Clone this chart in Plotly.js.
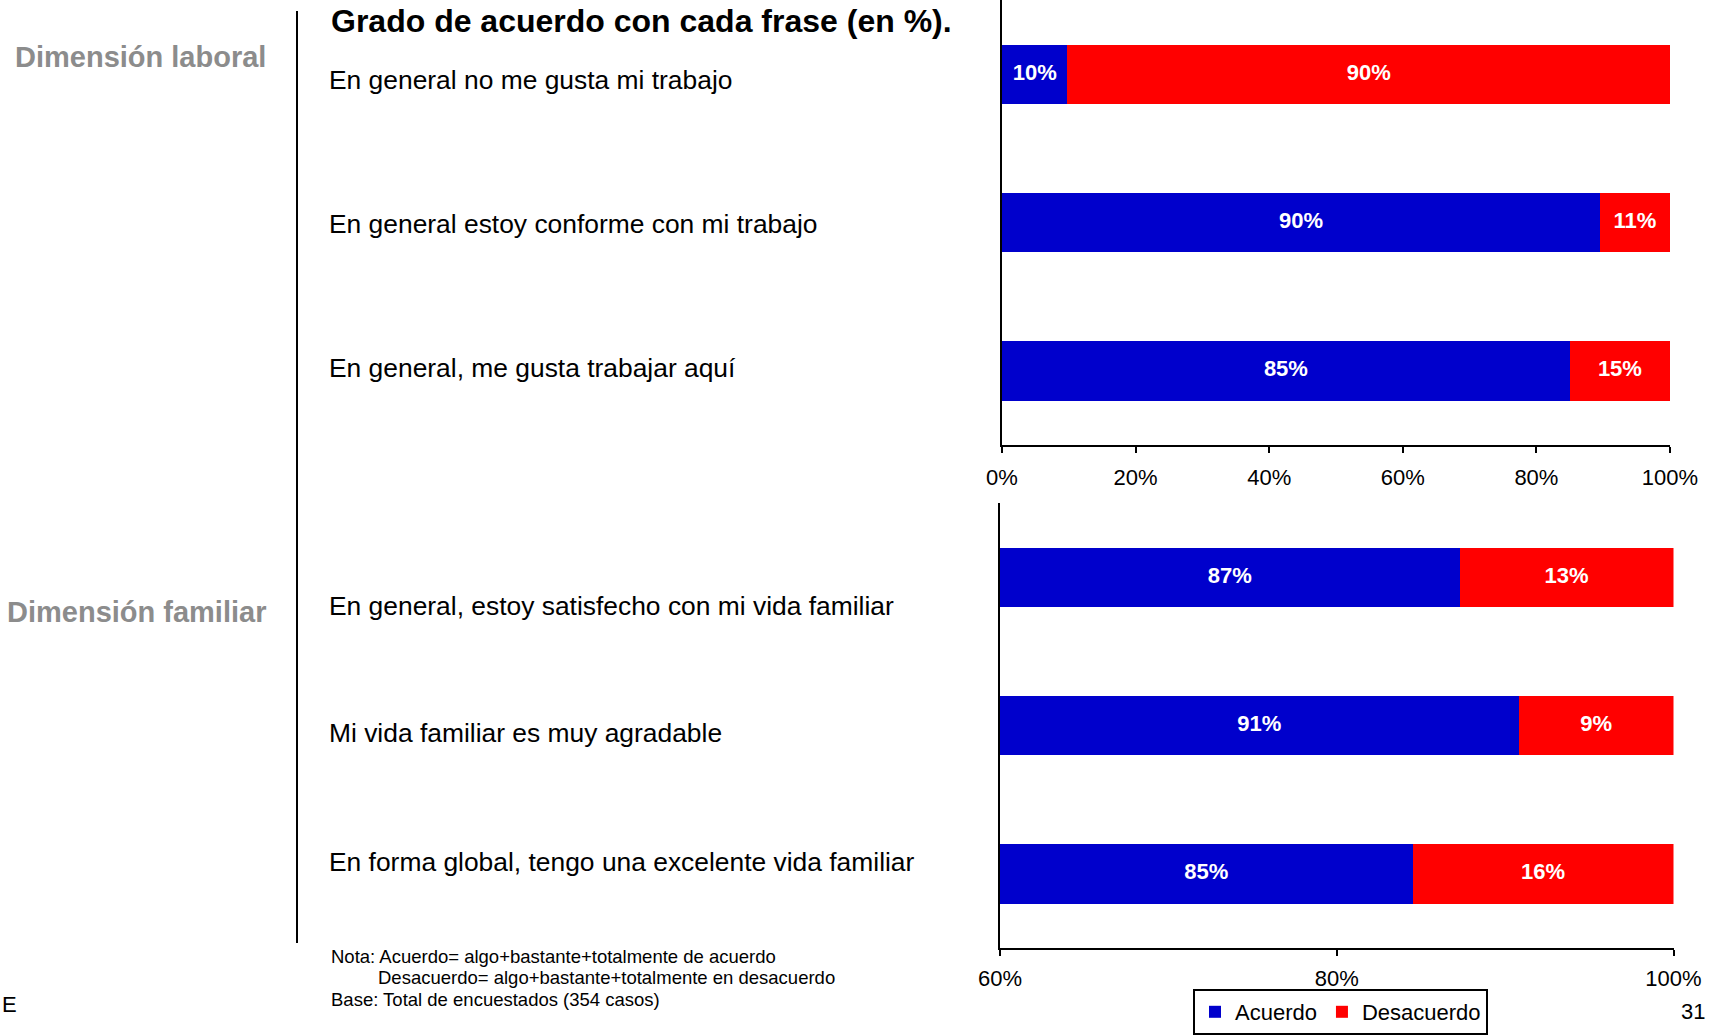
<!DOCTYPE html>
<html>
<head>
<meta charset="utf-8">
<script src="https://cdn.plot.ly/plotly-3.0.1.min.js"></script>
<style>html,body{margin:0;padding:0;background:#fff}#chart{width:1714px;height:1035px}</style>
</head>
<body>
<div id="chart"></div>
<script>
// ---- data ----
const laboralItems = [
  "En general no me gusta mi trabajo",
  "En general estoy conforme con mi trabajo",
  "En general, me gusta trabajar aquí"
];
const laboralAcuerdo = [9.8, 89.5, 85.0];
const laboralDesacuerdo = [90.2, 10.5, 15.0];

const familiarItems = [
  "En general, estoy satisfecho con mi vida familiar",
  "Mi vida familiar es muy agradable",
  "En forma global, tengo una excelente vida familiar"
];
const familiarAcuerdo = [87.3, 90.8, 84.5];
const familiarDesacuerdo = [12.7, 9.2, 15.5];

const seriesNames = ["Acuerdo", "Desacuerdo"];
const topTicks = [0, 20, 40, 60, 80, 100];
const bottomTicks = [60, 80, 100];
const titleText = "Grado de acuerdo con cada frase (en %).";
const dimLabels = ["Dimensión laboral", "Dimensión familiar"];
const noteLines = [
  "Nota: Acuerdo= algo+bastante+totalmente de acuerdo",
  "Desacuerdo= algo+bastante+totalmente en desacuerdo",
  "Base: Total de encuestados (354 casos)"
];

// ---- style ----
const W = 1714, H = 1035;
const FONT = "Liberation Sans, Arial, sans-serif";
const BLUE = "#0000CC", RED = "#FF0000";
const px = x => x / W;
const py = y => 1 - y / H;
const topRange = [0, 100], botRange = [60, 100];

function pct(v) { return Math.round(v) + "%"; }

function barTraces(items, acu, des, xa, ya, showLeg) {
  return [
    {type: "bar", orientation: "h", y: items, x: acu, name: seriesNames[0],
     marker: {color: BLUE}, width: 0.4, xaxis: xa, yaxis: ya, showlegend: showLeg,
     textposition: "none", hoverinfo: "skip"},
    {type: "bar", orientation: "h", y: items, x: des, name: seriesNames[1],
     marker: {color: RED}, width: 0.4, xaxis: xa, yaxis: ya, showlegend: showLeg,
     textposition: "none", hoverinfo: "skip"}
  ];
}
function labelTraces(items, acu, des, range, xa, ya) {
  const lo = range[0], hi = range[1];
  const xb = acu.map(a => (Math.max(lo, 0) + Math.min(hi, a)) / 2);
  const xr = acu.map((a, i) => (Math.max(lo, a) + Math.min(hi, a + des[i])) / 2);
  const tf = {family: FONT, size: 22, color: "#ffffff", weight: "bold"};
  return [
    {type: "scatter", mode: "text", x: xb, y: items, text: acu.map(pct),
     textfont: tf, xaxis: xa, yaxis: ya, showlegend: false, hoverinfo: "skip", cliponaxis: false},
    {type: "scatter", mode: "text", x: xr, y: items, text: des.map(pct),
     textfont: tf, xaxis: xa, yaxis: ya, showlegend: false, hoverinfo: "skip", cliponaxis: false}
  ];
}

const data = [
  ...barTraces(laboralItems, laboralAcuerdo, laboralDesacuerdo, "x", "y", true),
  ...barTraces(familiarItems, familiarAcuerdo, familiarDesacuerdo, "x2", "y2", false),
  ...labelTraces(laboralItems, laboralAcuerdo, laboralDesacuerdo, topRange, "x", "y"),
  ...labelTraces(familiarItems, familiarAcuerdo, familiarDesacuerdo, botRange, "x2", "y2")
];

const xaxisBase = {
  showgrid: false, zeroline: false, showline: true, linecolor: "#000", linewidth: 2,
  ticks: "outside", ticklen: 6, tickwidth: 2, tickcolor: "#000",
  tickmode: "array", tickfont: {family: FONT, size: 22, color: "#000"},
  fixedrange: true
};
const yaxisBase = {
  showgrid: false, zeroline: false, showline: true, linecolor: "#000", linewidth: 2,
  showticklabels: false, ticks: "", range: [2.5, -0.5], fixedrange: true
};

const annotations = [];
annotations.push({xref: "paper", yref: "paper", x: px(329), y: py(21), xanchor: "left", yanchor: "middle",
  text: "<b>" + titleText + "</b>", showarrow: false, font: {family: FONT, size: 32, color: "#000"}});
const dimY = [57, 612];
dimLabels.forEach((t, i) => annotations.push({xref: "paper", yref: "paper", x: px(268), y: py(dimY[i]),
  xanchor: "right", yanchor: "middle", text: "<b>" + t + "</b>", showarrow: false,
  font: {family: FONT, size: 29, color: "#8C8C8C"}}));
const stmtY = [80, 224, 368, 605.5, 733, 862];
laboralItems.concat(familiarItems).forEach((t, i) => annotations.push({xref: "paper", yref: "paper",
  x: px(327), y: py(stmtY[i]), xanchor: "left", yanchor: "middle", text: t, showarrow: false,
  font: {family: FONT, size: 26.4, color: "#000"}}));
const noteX = [329, 376, 329], noteY = [956, 977, 999];
noteLines.forEach((t, i) => annotations.push({xref: "paper", yref: "paper", x: px(noteX[i]), y: py(noteY[i]),
  xanchor: "left", yanchor: "middle", text: t, showarrow: false, font: {family: FONT, size: 18.5, color: "#000"}}));
annotations.push({xref: "paper", yref: "paper", x: 0, y: py(1004), xanchor: "left", yanchor: "middle",
  text: "E", showarrow: false, font: {family: FONT, size: 22, color: "#000"}});
annotations.push({xref: "paper", yref: "paper", x: px(1707), y: py(1011), xanchor: "right", yanchor: "middle",
  text: "31", showarrow: false, font: {family: FONT, size: 22, color: "#000"}});

const layout = {
  width: W, height: H, margin: {l: 0, r: 0, t: 0, b: 0, pad: 0},
  paper_bgcolor: "#fff", plot_bgcolor: "rgba(0,0,0,0)",
  font: {family: FONT, color: "#000"},
  barmode: "stack", bargap: 0.6,
  xaxis: Object.assign({}, xaxisBase, {domain: [px(1002), px(1670)], range: topRange,
    tickvals: topTicks, ticktext: topTicks.map(v => v + "%"),
    anchor: "y", ticklabelstandoff: 6}),
  yaxis: Object.assign({}, yaxisBase, {domain: [py(445), 1], anchor: "x"}),
  xaxis2: Object.assign({}, xaxisBase, {domain: [px(1000), px(1673.5)], range: botRange,
    tickvals: bottomTicks, ticktext: bottomTicks.map(v => v + "%"),
    anchor: "y2", ticklabelstandoff: 4}),
  yaxis2: Object.assign({}, yaxisBase, {domain: [py(948), py(503)], anchor: "x2"}),
  showlegend: true,
  legend: {orientation: "h", x: px(1193), y: 0, xanchor: "left", yanchor: "bottom",
    bordercolor: "#000", borderwidth: 2, bgcolor: "#fff",
    font: {family: FONT, size: 22, color: "#000"}, itemwidth: 30, traceorder: "normal"},
  shapes: [{type: "line", xref: "paper", yref: "paper", x0: px(297), x1: px(297), y0: py(11), y1: py(943),
    line: {color: "#000", width: 2}}],
  annotations: annotations
};

Plotly.newPlot("chart", data, layout, {displayModeBar: false, staticPlot: true});
</script>
</body>
</html>
